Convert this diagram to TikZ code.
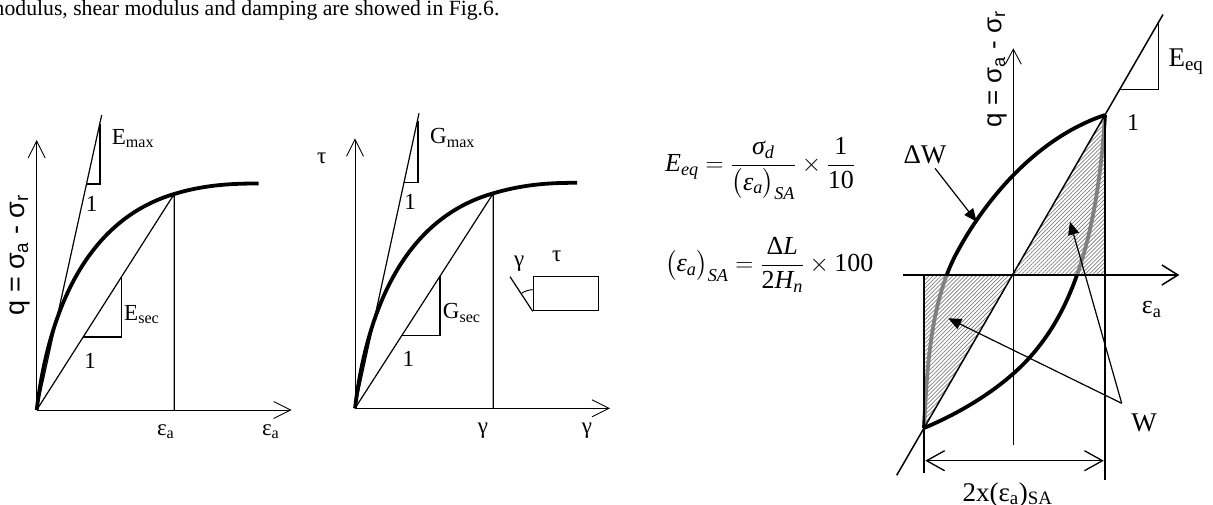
\documentclass[tikz,border=0pt]{standalone}
\usepackage{amsmath}
\usepackage{fontspec}
\setmainfont{Liberation Serif}
\setsansfont{Liberation Sans}
\usetikzlibrary{arrows.meta,patterns.meta}
\newcommand{\ti}[1]{\text{\itshape #1}}
\begin{document}
\begin{tikzpicture}[x=1pt,y=-1pt,
  axln/.style={line width=0.9pt},
  thinln/.style={line width=1.2pt},
  crv/.style={line width=3.8pt},
  barb/.style={-{Straight Barb[length=17pt,width=17pt]}},
  lbl/.style={font=\fontsize{23}{27}\selectfont, inner sep=0pt},
  biglbl/.style={font=\fontsize{27}{31}\selectfont, inner sep=0pt},
  sflbl/.style={font=\sffamily\fontsize{27}{31}\selectfont, inner sep=0pt},
  eqn/.style={font=\fontsize{26}{30}\selectfont, inner sep=0pt},
  fillarrow/.style={-{Triangle[length=13pt,width=11pt]}, line width=1.2pt},
  hatch/.style={pattern={Lines[angle=45,distance=2.8pt,line width=0.7pt]}, pattern color=black!50},
]
\useasboundingbox (0,0) rectangle (1213,504);

% caption text (clipped at page edge)
\node[lbl, anchor=base west, font=\fontsize{21.7}{25}\selectfont] (cap) at (-12.5,15) {modulus, shear modulus and damping are showed in Fig.6.};

% ---------- left chart ----------
\begin{scope}[shift={(36.7,410)}]
  \coordinate (lO) at (0,0);
  \coordinate (lY) at (0,-270);
  \coordinate (lX) at (255,0);
  \coordinate (lS) at (137.5,-216);
  \coordinate (lSb) at (137.5,0);
  \coordinate (lM) at (65,-295);
  \draw[axln, barb] (lO) -- (lY);
  \draw[axln, barb] (lO) -- (lX);
  \draw[thinln] (lO) -- (lM);
  \draw[thinln] (49.8,-226) -- (63.3,-226) -- (63.3,-286.5);
  \draw[thinln] (lO) -- (lS) -- (lSb);
  \draw[thinln] (46.5,-73) -- (85,-73) -- (85,-133.5);
  \draw[crv] (lO) .. controls (12,-100) and (50,-190) .. (lS)
             .. controls (170,-226) and (200,-226.5) .. (222,-226.5);
  \node[lbl, anchor=base west] (lEmax) at (75,-266) {E\textsubscript{max}};
  \node[lbl, anchor=base] (lone1) at (55,-199) {1};
  \node[lbl, anchor=base west] (lEsec) at (87.3,-90) {E\textsubscript{sec}};
  \node[lbl, anchor=base] (lone2) at (53.3,-42) {1};
  \node[lbl, anchor=base] (lea1) at (129,25) {ε\textsubscript{a}};
  \node[lbl, anchor=base] (lea2) at (234,25) {ε\textsubscript{a}};
\end{scope}
\node[sflbl, rotate=90] (lq) at (20,255) {q = σ\textsubscript{a} - σ\textsubscript{r}};

% ---------- middle chart ----------
\begin{scope}[shift={(355,408.3)}]
  \coordinate (mO) at (0,0);
  \coordinate (mY) at (0,-270);
  \coordinate (mX) at (255,0);
  \coordinate (mS) at (138.3,-215);
  \coordinate (mSb) at (138.3,0);
  \coordinate (mM) at (64,-295);
  \draw[axln, barb] (mO) -- (mY);
  \draw[axln, barb] (mO) -- (mX);
  \draw[thinln] (mO) -- (mM);
  \draw[thinln] (49,-226) -- (63,-226) -- (63,-287);
  \draw[thinln] (mO) -- (mS) -- (mSb);
  \draw[thinln] (46.5,-73) -- (85,-73) -- (85,-132.5);
  \draw[crv] (mO) .. controls (12,-100) and (50,-190) .. (mS)
             .. controls (172,-225) and (200,-225.5) .. (222,-225.5);
  \node[lbl, anchor=base west] (mGmax) at (75,-265) {G\textsubscript{max}};
  \node[lbl, anchor=base] (mone1) at (55,-199) {1};
  \node[lbl, anchor=base west] (mGsec) at (87.7,-90) {G\textsubscript{sec}};
  \node[lbl, anchor=base] (mone2) at (53.3,-42) {1};
  \node[lbl, anchor=base] (mg1) at (128,25) {γ};
  \node[lbl, anchor=base] (mg2) at (232,25) {γ};
\end{scope}
\node[lbl] (mtau) at (321.7,158.3) {τ};
% shear element
\node[draw, thinln, minimum width=65pt, minimum height=34pt, inner sep=0pt] (box) at (565.8,293.7) {};
\coordinate (slant) at (510,276.7);
\draw[thinln] (box.south west) -- (slant);
\draw[line width=0.9pt] (533.3,289.7) arc[start angle=-90, end angle=-124, radius=21];
\node[lbl] (bg) at (519.3,263.3) {γ};
\node[lbl] (bt) at (556.7,256.7) {τ};

% ---------- formulas ----------
\node[eqn, anchor=base west] (f1) at (665,171.7)
  {$\ti{E}_{\ti{eq}}=\dfrac{\ti{σ}_{\ti{d}}}{\bigl(\ti{ε}_{\ti{a}}\bigr)_{\ti{SA}}}\times\dfrac{\text{1}}{\text{10}}$};
\node[eqn, anchor=base west] (f2) at (665,271.7)
  {$\bigl(\ti{ε}_{\ti{a}}\bigr)_{\ti{SA}}=\dfrac{\text{Δ}\ti{L}}{\text{2}\ti{H}_{\ti{n}}}\times\text{100}$};

% ---------- hysteresis figure ----------
\coordinate (O) at (1013.3,275);
\coordinate (A) at (1105,115);
\coordinate (B) at (924,428);
\coordinate (Ab) at (1105,275);
\coordinate (Bb) at (924,275);
% loop
\draw[crv] (B) .. controls (927,370) and (930,300) .. (958.3,250)
  .. controls (980,210) and (1030,140) .. (A);
\draw[crv] (B) .. controls (960,413) and (1010,385) .. (1040,345)
  .. controls (1075,300) and (1098,230) .. (A);
% hatched triangles
\fill[white, opacity=0.5] (O) -- (A) -- (Ab) -- cycle;
\fill[white, opacity=0.5] (O) -- (B) -- (Bb) -- cycle;
\fill[hatch] (O) -- (A) -- (Ab) -- cycle;
\fill[hatch] (O) -- (B) -- (Bb) -- cycle;
% axes
\coordinate (hx0) at (903.3,275);
\coordinate (hx1) at (1179.3,275);
\coordinate (vy0) at (1013.3,445);
\coordinate (vy1) at (1013.3,48.3);
\draw[line width=1.5pt, -{Straight Barb[length=16pt,width=20pt]}] (hx0) -- (hx1);
\draw[axln, -{Straight Barb[length=15pt,width=16pt]}] (vy0) -- (vy1);
% diagonal and verticals
\coordinate (d0) at (896.7,475.3);
\coordinate (d1) at (1163,14.5);
\draw[line width=1.5pt] (d0) -- (d1);
\coordinate (Bv) at (924,473);
\coordinate (Av) at (1105,480);
\draw[line width=2pt] (Bb) -- (Bv);
\draw[line width=2pt] (A) -- (Av);
\draw[thinln] (1119.9,89.3) -- (1158.3,89.3) -- (1158.3,23);
% arrows
\node[biglbl] (dW) at (925,155) {ΔW};
\coordinate (dWs) at (935,168.3);
\coordinate (dWt) at (976.7,221.7);
\draw[fillarrow] (dWs) -- (dWt);
\node[biglbl, anchor=base] (W) at (1144,431.7) {W};
\coordinate (Ws) at (1121.7,403.3);
\coordinate (Wt1) at (948.3,318.3);
\coordinate (Wt2) at (1070,221.7);
\draw[fillarrow] (Ws) -- (Wt1);
\draw[fillarrow] (Ws) -- (Wt2);
% dimension
\coordinate (dimL) at (925.3,460.7);
\coordinate (dimR) at (1103.8,460.7);
\draw[line width=1.3pt, {Straight Barb[length=18pt,width=20pt]}-{Straight Barb[length=18pt,width=20pt]}] (dimL) -- (dimR);
\node[biglbl, anchor=base] (dimlbl) at (1007.5,501) {2x(ε\textsubscript{a})\textsubscript{SA}};
% labels
\node[biglbl, anchor=base west] (Eeq) at (1168.3,66.7) {E\textsubscript{eq}};
\node[lbl, anchor=base, font=\fontsize{24}{28}\selectfont] (one3) at (1133,130.7) {1};
\node[lbl, anchor=base, font=\fontsize{26}{30}\selectfont] (ea3) at (1151.7,313.3) {ε\textsubscript{a}};
\node[sflbl, rotate=90, font=\sffamily\fontsize{26}{30}\selectfont] (rq) at (997,69) {q = σ\textsubscript{a} - σ\textsubscript{r}};
\end{tikzpicture}
\end{document}
